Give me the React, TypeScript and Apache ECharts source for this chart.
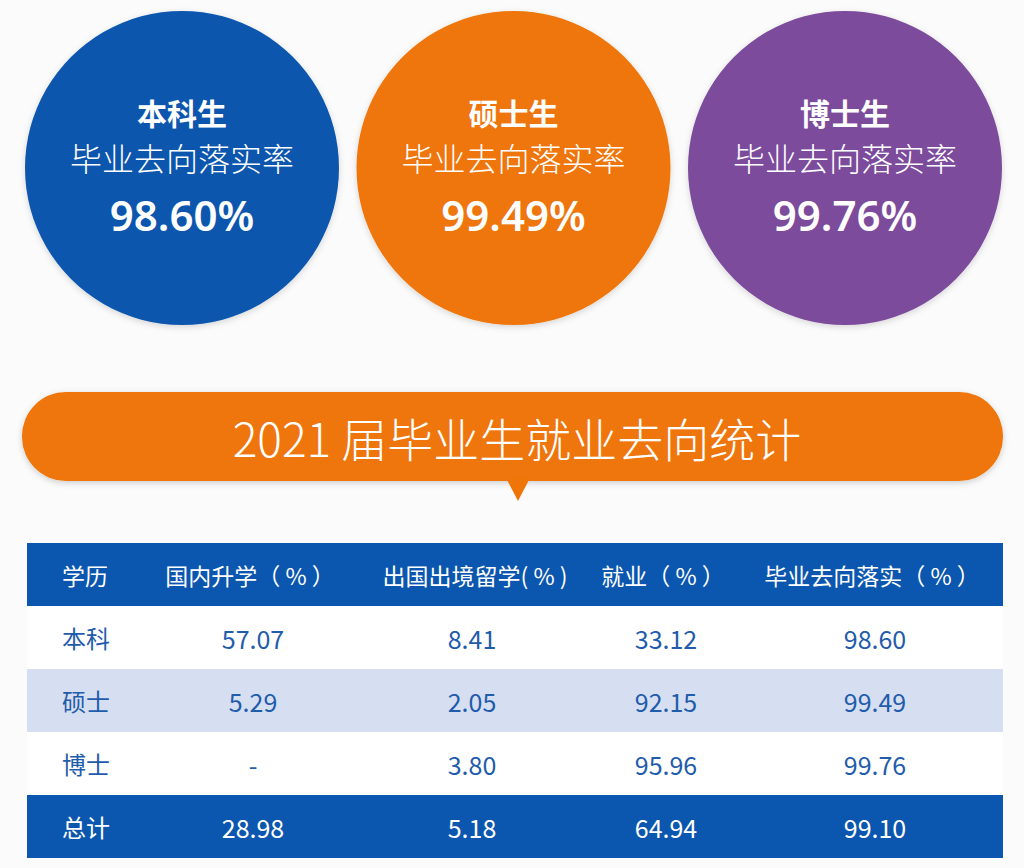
import React, { useEffect, useRef } from "react";
import * as echarts from "echarts";

const degreeNames = ["本科生", "硕士生", "博士生"];
const rateLabel = "毕业去向落实率";
const rates = ["98.60%", "99.49%", "99.76%"];
const circleColors = ["#0b56ae", "#ef7508", "#7b4b9c"];

const title = "2021 届毕业生就业去向统计";
const headers = ["学历", "国内升学（ % ）", "出国出境留学( % )", "就业（ % ）", "毕业去向落实（ % ）"];
const rowLabels = ["本科", "硕士", "博士", "总计"];
const domestic = ["57.07", "5.29", "-", "28.98"];
const abroad = ["8.41", "2.05", "3.80", "5.18"];
const employed = ["33.12", "92.15", "95.96", "64.94"];
const settled = ["98.60", "99.49", "99.76", "99.10"];

const BLUE = "#0b56ae";
const ORANGE = "#ef7508";
const STRIPE = "#d6dff2";
const CJK = "'Noto Sans CJK SC', 'Noto Sans', sans-serif";

export default function App() {
  const ref = useRef<HTMLDivElement>(null);
  useEffect(() => {
    document.body.style.margin = "0";
    const chart = echarts.init(ref.current!, null, { renderer: "svg" });
    const g: any[] = [];
    g.push({ type: "rect", shape: { x: 0, y: 0, width: 1024, height: 868 }, style: { fill: "#fbfbfb" }, silent: true });

    // circles
    const cx0 = 182, dx = 331.5, cy = 168, r = 157;
    degreeNames.forEach((name, i) => {
      const cx = cx0 + dx * i;
      g.push({
        type: "circle",
        shape: { cx, cy, r },
        style: { fill: circleColors[i], shadowBlur: 6, shadowColor: "rgba(0,0,0,0.15)", shadowOffsetY: 2 },
      });
      g.push({ type: "text", x: cx, y: 112, style: { text: name, fill: "#fff", font: `bold 30px ${CJK}`, align: "center", verticalAlign: "middle" } });
      g.push({ type: "text", x: cx, y: 157, style: { text: rateLabel, fill: "#fff", font: `300 32px ${CJK}`, align: "center", verticalAlign: "middle" } });
      g.push({ type: "text", x: cx, y: 214, style: { text: rates[i], fill: "#fff", font: `600 42px 'Noto Sans', sans-serif`, align: "center", verticalAlign: "middle" } });
    });

    // banner
    g.push({
      type: "rect",
      shape: { x: 22, y: 392, width: 981, height: 89, r: 44 },
      style: { fill: ORANGE, shadowBlur: 6, shadowColor: "rgba(0,0,0,0.18)", shadowOffsetY: 2 },
    });
    g.push({ type: "polygon", shape: { points: [[506, 478], [530, 478], [518, 501]] }, style: { fill: ORANGE } });
    g.push({ type: "text", x: 517, y: 437, style: { text: title, fill: "#fff", font: `300 46px ${CJK}`, align: "center", verticalAlign: "middle" } });

    // table
    const tx = 27, tw = 976, ty = 543, rh = 63;
    const colX = [62, 250, 475, 663, 872];
    const valX = [62, 253, 472, 666, 875];
    const cols = [rowLabels, domestic, abroad, employed, settled];
    g.push({ type: "rect", shape: { x: tx, y: ty, width: tw, height: rh }, style: { fill: BLUE } });
    headers.forEach((h, c) => {
      g.push({ type: "text", x: colX[c], y: ty + rh / 2, style: { text: h, fill: "#fff", font: `400 23px ${CJK}`, align: c === 0 ? "left" : "center", verticalAlign: "middle" } });
    });
    rowLabels.forEach((_, ri) => {
      const y = ty + rh * (ri + 1);
      const isTotal = ri === rowLabels.length - 1;
      const fill = isTotal ? BLUE : ri % 2 === 1 ? STRIPE : "#ffffff";
      g.push({ type: "rect", shape: { x: tx, y, width: tw, height: rh }, style: { fill } });
      cols.forEach((col, c) => {
        g.push({
          type: "text", x: valX[c], y: y + rh / 2,
          style: { text: col[ri], fill: isTotal ? "#fff" : "#1f5cab", font: `400 ${c === 0 ? 24 : 25}px ${CJK}`, align: c === 0 ? "left" : "center", verticalAlign: "middle" },
        });
      });
    });

    chart.setOption({ animation: false, graphic: { elements: g } });
    return () => chart.dispose();
  }, []);
  return <div ref={ref} style={{ width: 1024, height: 868 }} />;
}
